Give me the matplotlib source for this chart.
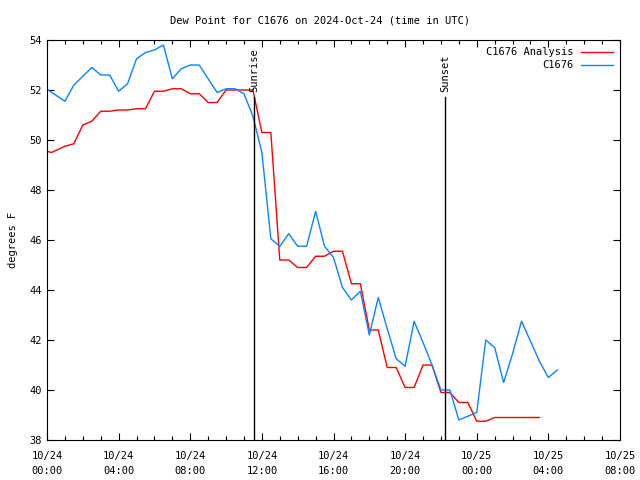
import matplotlib
matplotlib.use('Agg')
import matplotlib.pyplot as plt
from matplotlib.ticker import MultipleLocator

# hours since 2024-10-24 00:00 UTC
analysis_hours = [0, 0.25, 1.0, 1.5, 2.0, 2.5, 3.0, 3.5, 4.0, 4.5, 5.0, 5.5, 6.0, 6.5,
                  7.0, 7.5, 8.0, 8.5, 9.0, 9.5, 10.0, 10.5, 11.0, 11.5, 12.0, 12.5,
                  13.0, 13.5, 14.0, 14.5, 15.0, 15.5, 16.0, 16.5, 17.0, 17.5, 18.0,
                  18.5, 19.0, 19.5, 20.0, 20.5, 21.0, 21.5, 22.0, 22.5, 23.0, 23.5,
                  24.0, 24.5, 25.0, 25.5, 26.0, 26.5, 27.0, 27.5]
analysis_vals = [49.55, 49.5, 49.75, 49.85, 50.6, 50.75, 51.15, 51.15, 51.2, 51.2,
                 51.25, 51.25, 51.95, 51.95, 52.05, 52.05, 51.85, 51.85, 51.5, 51.5,
                 52.0, 52.0, 52.0, 52.0, 50.3, 50.3, 45.2, 45.2, 44.9, 44.9, 45.35,
                 45.35, 45.55, 45.55, 44.25, 44.25, 42.4, 42.4, 40.9, 40.9, 40.1, 40.1,
                 41.0, 41.0, 39.9, 39.9, 39.5, 39.5, 38.75, 38.75, 38.9, 38.9, 38.9,
                 38.9, 38.9, 38.9]

station_hours = [0, 1.0, 1.5, 2.5, 3.0, 3.5, 4.0, 4.5, 5.0, 5.5, 6.0, 6.5, 7.0, 7.5,
                 8.0, 8.5, 9.0, 9.5, 10.0, 10.5, 11.0, 11.5, 12.0, 12.5, 13.0, 13.5,
                 14.0, 14.5, 15.0, 15.5, 16.0, 16.5, 17.0, 17.5, 18.0, 18.5, 19.0,
                 19.5, 20.0, 20.5, 21.0, 21.5, 22.0, 22.5, 23.0, 23.5, 24.0, 24.5,
                 25.0, 25.5, 26.0, 26.5, 27.0, 27.5, 28.0, 28.5]
station_vals = [52.03, 51.55, 52.2, 52.9, 52.6, 52.6, 51.95, 52.25, 53.25, 53.5, 53.6,
                53.8, 52.45, 52.85, 53.0, 53.0, 52.45, 51.9, 52.05, 52.05, 51.85,
                50.95, 49.5, 46.05, 45.75, 46.25, 45.75, 45.75, 47.15, 45.75, 45.3,
                44.1, 43.6, 43.95, 42.2, 43.7, 42.45, 41.25, 40.95, 42.75, 41.9, 41.0,
                40.0, 40.0, 38.8, 38.95, 39.1, 42.0, 41.7, 40.3, 41.45, 42.75, 41.95,
                41.15, 40.5, 40.8]

sunrise_hour = 11.56
sunset_hour = 22.23

tick_hours = [0, 4, 8, 12, 16, 20, 24, 28, 32]
tick_labels = ['10/24\n00:00', '10/24\n04:00', '10/24\n08:00', '10/24\n12:00',
               '10/24\n16:00', '10/24\n20:00', '10/25\n00:00', '10/25\n04:00',
               '10/25\n08:00']

plt.rcParams['font.family'] = ['DejaVu Sans Mono']
plt.rcParams['font.size'] = 7.5

fig = plt.figure(figsize=(6.4, 4.8), dpi=100)
fig.set_facecolor('white')
ax = fig.add_axes([47 / 640, 40 / 480, 573 / 640, 400 / 480])

ax.plot(analysis_hours, analysis_vals, color='#ff0000', lw=1.0, label='C1676 Analysis')
ax.plot(station_hours, station_vals, color='#0a84ff', lw=1.0, label='C1676')

# sunrise / sunset markers
for h, name in [(sunrise_hour, 'Sunrise'), (sunset_hour, 'Sunset')]:
    ax.plot([h, h], [38, 51.72], color='black', lw=1.0)
    ax.text(h, 51.9, name, rotation=90, ha='center', va='bottom', fontsize=7.5)

ax.set_xlim(0, 32)
ax.set_ylim(38, 54)
ax.set_xticks(tick_hours)
ax.set_xticklabels(tick_labels, linespacing=1.55)
ax.xaxis.set_minor_locator(MultipleLocator(1))
ax.set_yticks(range(38, 55, 2))
ax.tick_params(which='both', direction='in', top=True, right=True, width=0.8)
ax.tick_params(which='major', length=5, pad=8)
ax.tick_params(which='minor', length=3)
ax.tick_params(axis='y', pad=4)
for s in ax.spines.values():
    s.set_linewidth(0.8)

ax.set_ylabel('degrees F', labelpad=8)
fig.suptitle('Dew Point for C1676 on 2024-Oct-24 (time in UTC)', y=0.967, fontsize=7.5)

ax.legend(loc='upper right', frameon=False, markerfirst=False, handlelength=3.0,
          handletextpad=0.8, borderaxespad=0.3, labelspacing=0.3)

fig.savefig('out.png', dpi=100)
